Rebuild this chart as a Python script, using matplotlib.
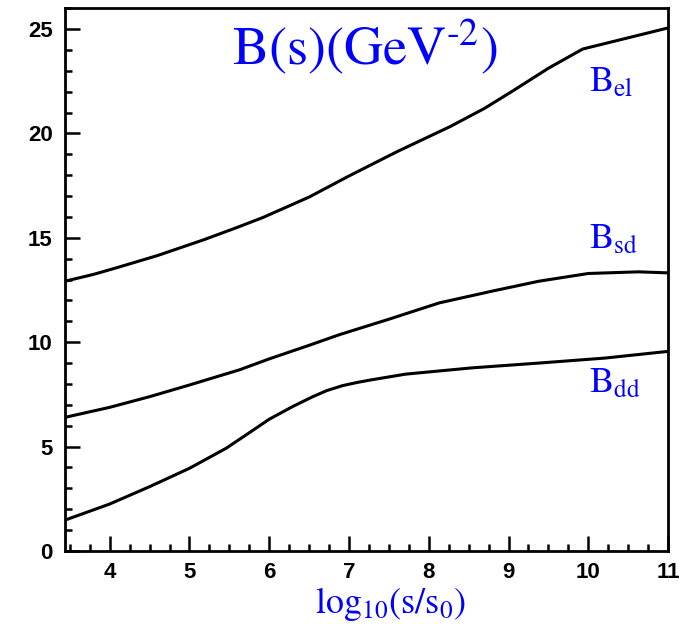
import numpy as np
import matplotlib
matplotlib.use("Agg")
import matplotlib.pyplot as plt
from matplotlib.ticker import MultipleLocator

# values
x_el = [3.44, 3.8, 4.1, 4.6, 5.19, 5.6, 5.92, 6.5, 7.0, 7.6, 8.27, 8.7, 9.06, 9.5, 9.93, 11.0]
b_el = [12.92, 13.25, 13.58, 14.15, 14.92, 15.5, 15.97, 16.95, 17.96, 19.12, 20.33, 21.2, 22.05, 23.12, 24.04, 25.05]

x_sd = [3.44, 4.0, 4.5, 5.0, 5.63, 6.0, 6.5, 6.88, 7.5, 8.13, 8.8, 9.38, 10.0, 10.63, 11.0]
b_sd = [6.4, 6.88, 7.39, 7.95, 8.68, 9.2, 9.85, 10.36, 11.1, 11.88, 12.45, 12.92, 13.29, 13.37, 13.32]

x_dd = [3.44, 3.79, 4.0, 4.5, 5.0, 5.46, 5.71, 6.0, 6.29, 6.54, 6.72, 6.92, 7.1, 7.27, 7.71, 8.54, 9.38, 10.21, 11.0]
b_dd = [1.48, 1.96, 2.25, 3.08, 3.96, 4.92, 5.56, 6.31, 6.91, 7.38, 7.68, 7.92, 8.07, 8.19, 8.47, 8.77, 9.0, 9.24, 9.56]

labels = [r"$\mathrm{B_{el}}$", r"$\mathrm{B_{sd}}$", r"$\mathrm{B_{dd}}$"]
label_pos = [(10.01, 21.98), (10.01, 14.46), (10.01, 7.57)]

plt.rcParams['mathtext.fontset'] = 'stix'

fig = plt.figure(figsize=(6.88, 6.24), dpi=100)
ax = fig.add_axes([0.0945, 0.117, 0.8765, 0.870])

for xs, ys in [(x_el, b_el), (x_sd, b_sd), (x_dd, b_dd)]:
    ax.plot(xs, ys, color='black', linewidth=2.2, solid_joinstyle='round')

ax.set_xlim(3.44, 11.0)
ax.set_ylim(0, 26)

ax.xaxis.set_major_locator(MultipleLocator(1))
ax.xaxis.set_minor_locator(MultipleLocator(0.25))
ax.yaxis.set_major_locator(MultipleLocator(5))
ax.yaxis.set_minor_locator(MultipleLocator(1))
ax.tick_params(which='both', direction='in', top=False, right=False, width=1.8)
ax.tick_params(which='major', length=11)
ax.tick_params(axis='x', which='major', pad=8)
ax.tick_params(axis='y', which='major', pad=9)
ax.tick_params(which='minor', length=5)
for lab in ax.get_xticklabels() + ax.get_yticklabels():
    lab.set_fontfamily('Liberation Sans')
    lab.set_fontweight('bold')
    lab.set_fontsize(16)

for sp in ax.spines.values():
    sp.set_linewidth(2)

ax.text(5.53, 23.28, r"$\mathrm{B(s)(GeV^{\text{-}2})}$",
        ha='left', va='baseline', fontsize=39, color='blue')
for lab, (lx, ly) in zip(labels, label_pos):
    ax.text(lx, ly, lab, ha='left', va='baseline', fontsize=26, color='blue')

# x axis title
ax.text(0.54, -0.114, r"$\mathrm{log_{10}(s/s_0)}$", transform=ax.transAxes,
        ha='center', va='baseline', fontsize=26, color='blue')

fig.savefig("out.png", dpi=100)
